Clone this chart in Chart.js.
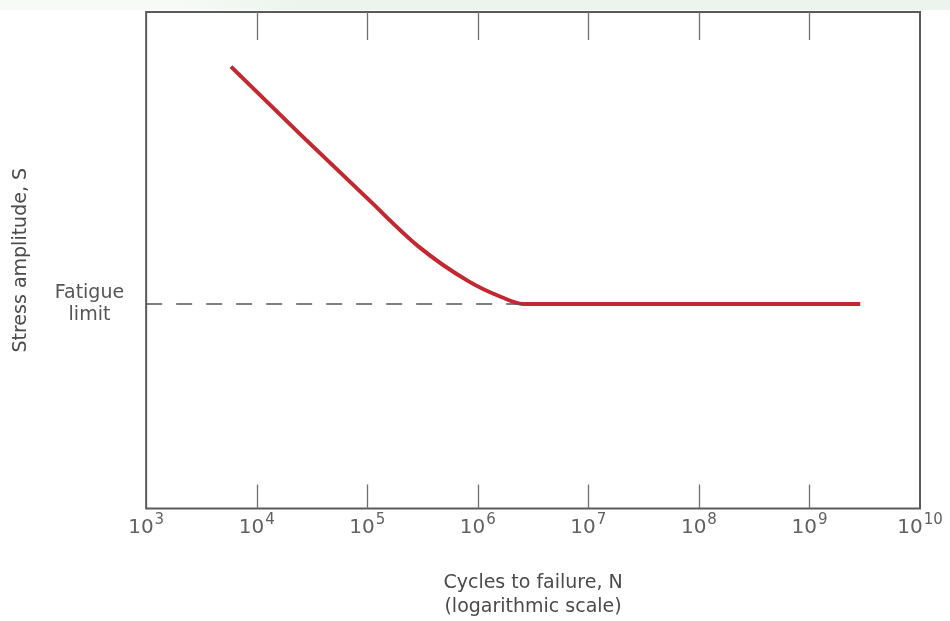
<!DOCTYPE html>
<html>
<head>
<meta charset="utf-8">
<script src="https://cdn.jsdelivr.net/npm/chart.js@4/dist/chart.umd.min.js"></script>
<style>
  html, body { margin: 0; padding: 0; background: #fff; }
  #strip { position: absolute; left: 0; top: 0; width: 950px; height: 10px;
           background: linear-gradient(90deg, #f7faf7 0, #f7faf7 180px, #ecf4ed 300px, #ecf4ed 100%); }
  #wrap { width: 950px; height: 621px; position: relative; }
</style>
</head>
<body>
<div id="wrap"><div id="strip"></div><canvas id="chart"></canvas></div>
<script>
// S-N curve (N in cycles, S in arbitrary 0-100 units)
const cycles = [5.85e3, 2.55e4, 1.03e5, 2.9e5, 8.2e5, 1.63e6, 2.57e6, 2.88e9];
const stress = [89.0, 75.1, 62.2, 52.8, 45.8, 42.6, 41.2, 41.2];
const fatigueLimit = 41.2;
const dashedX = [1e3, 2.57e6];
const decades = [1e3, 1e4, 1e5, 1e6, 1e7, 1e8, 1e9, 1e10];

// frame, inward tick marks and 10^n labels
const framePlugin = {
    id: 'frame',
    afterDatasetsDraw(chart) {
        const ctx = chart.ctx;
        const a = chart.chartArea;
        const x = chart.scales.x;
        ctx.save();
        ctx.strokeStyle = '#5a5a5a';
        ctx.lineWidth = 2;
        ctx.strokeRect(a.left, a.top, a.right - a.left, a.bottom - a.top);
        ctx.lineWidth = 1.3;
        ctx.strokeStyle = '#707070';
        decades.slice(1, -1).forEach(v => {
            const px = Math.round(x.getPixelForValue(v)) + 0.5;
            ctx.beginPath();
            ctx.moveTo(px, a.top);
            ctx.lineTo(px, a.top + 28);
            ctx.moveTo(px, a.bottom);
            ctx.lineTo(px, a.bottom - 24);
            ctx.stroke();
        });

        // axis numbers as 10 with a raised exponent
        ctx.fillStyle = '#606060';
        ctx.textBaseline = 'alphabetic';
        ctx.textAlign = 'left';
        const base = '20px "DejaVu Sans"';
        const expo = '15px "DejaVu Sans"';
        decades.forEach(v => {
            const e = String(Math.round(Math.log10(v)));
            ctx.font = base;
            const w1 = ctx.measureText('10').width;
            ctx.font = expo;
            const w2 = ctx.measureText(e).width;
            const left = x.getPixelForValue(v) - (w1 + w2 + 1) / 2;
            const y0 = a.bottom + 24;
            ctx.font = base;
            ctx.fillText('10', left, y0);
            ctx.font = expo;
            ctx.fillText(e, left + w1 + 1, y0 - 9);
        });
        ctx.restore();
    }
};

new Chart(document.getElementById('chart'), {
    type: 'line',
    data: {
        datasets: [
            {
                data: dashedX.map(n => ({ x: n, y: fatigueLimit })),
                borderColor: '#555',
                borderWidth: 1.6,
                borderDash: [16, 14],
                pointRadius: 0
            },
            {
                data: cycles.map((n, i) => ({ x: n, y: stress[i] })),
                borderColor: '#c3272f',
                borderWidth: 4,
                pointRadius: 0,
                cubicInterpolationMode: 'monotone',
                borderCapStyle: 'butt'
            }
        ]
    },
    options: {
        responsive: true,
        maintainAspectRatio: false,
        animation: false,
        layout: { padding: { top: 12, right: 30, left: 2, bottom: 2 } },
        plugins: {
            legend: { display: false },
            tooltip: { enabled: false }
        },
        scales: {
            x: {
                type: 'logarithmic',
                min: 1e3,
                max: 1e10,
                afterBuildTicks: s => { s.ticks = decades.map(v => ({ value: v })); },
                afterFit: s => { s.paddingLeft = 0; s.paddingRight = 0; },
                grid: { display: false },
                border: { display: false },
                ticks: { display: false },
                title: {
                    display: true,
                    text: ['Cycles to failure, N', '(logarithmic scale)'],
                    color: '#4a4a4a',
                    font: { family: 'DejaVu Sans', size: 19, lineHeight: 1.25 },
                    padding: { top: 55, bottom: 0 }
                }
            },
            y: {
                min: 0,
                max: 100,
                afterBuildTicks: s => { s.ticks = [{ value: fatigueLimit }]; },
                afterFit: s => { s.paddingTop = 0; s.paddingBottom = 0; },
                grid: { display: false },
                border: { display: false },
                ticks: {
                    callback: () => ['Fatigue', 'limit'],
                    color: '#555',
                    font: { family: 'DejaVu Sans', size: 19, lineHeight: 1.15 },
                    padding: 14,
                    crossAlign: 'center'
                },
                title: {
                    display: true,
                    text: 'Stress amplitude, S',
                    color: '#4a4a4a',
                    font: { family: 'DejaVu Sans', size: 19 },
                    padding: { top: 8, bottom: 8 }
                }
            }
        }
    },
    plugins: [framePlugin]
});
</script>
</body>
</html>
